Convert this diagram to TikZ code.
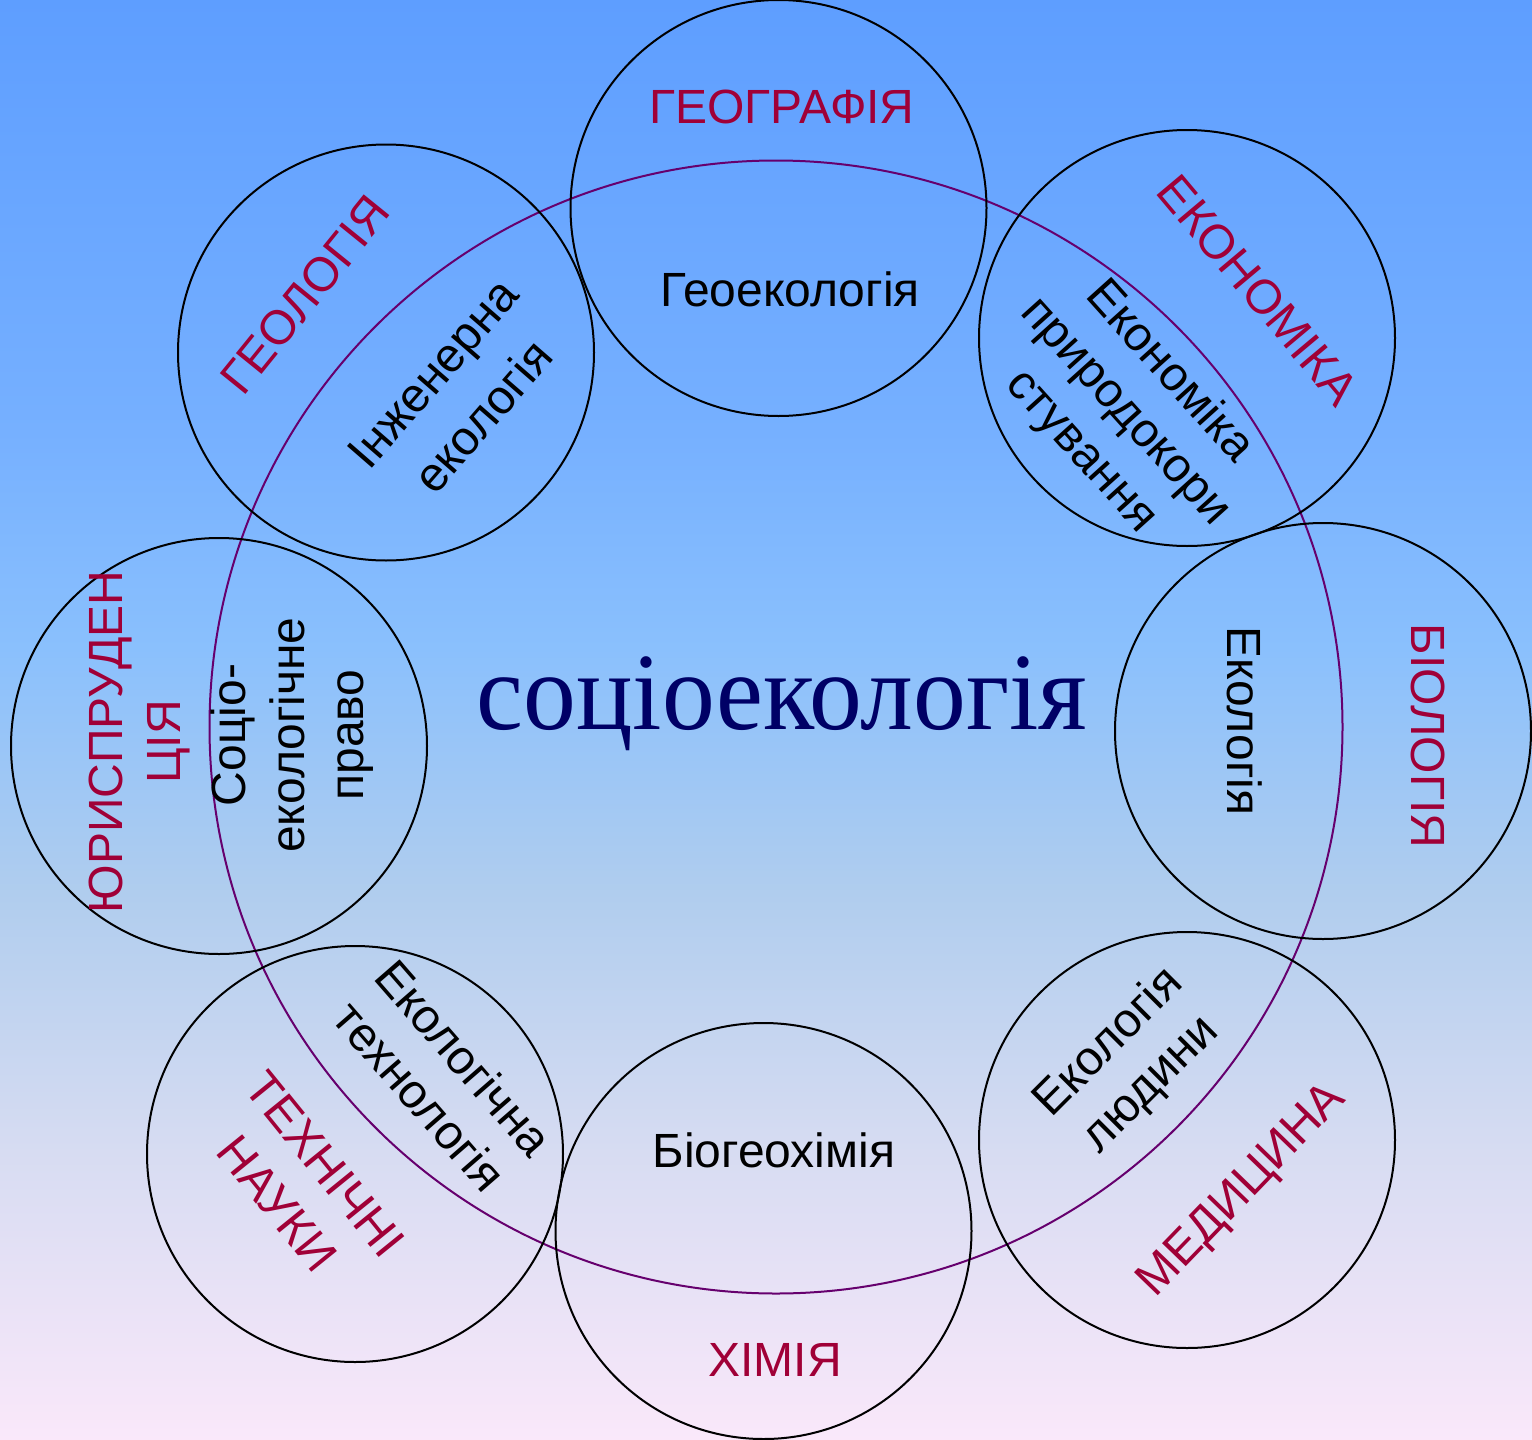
\documentclass[tikz,border=0pt]{standalone}
\usepackage{fontspec}
\setmainfont{Liberation Sans}
\newfontfamily\serifcyr{Liberation Serif}
\definecolor{redt}{RGB}{160,0,55}
\definecolor{navyt}{RGB}{0,0,102}
\definecolor{bigpurple}{RGB}{102,0,110}
\pgfdeclareverticalshading{bgshade}{100bp}{%
  color(0bp)=(rgb,255:red,250;green,232;blue,250);
  color(25bp)=(rgb,255:red,250;green,232;blue,250);
  color(35bp)=(rgb,255:red,215;green,220;blue,242);
  color(44bp)=(rgb,255:red,176;green,205;blue,238);
  color(52.5bp)=(rgb,255:red,138;green,192;blue,253);
  color(60bp)=(rgb,255:red,118;green,176;blue,255);
  color(75bp)=(rgb,255:red,94;green,158;blue,255);
  color(100bp)=(rgb,255:red,94;green,158;blue,255)}
\begin{document}
\begin{tikzpicture}[x=0.5pt,y=-0.5pt,
  ring/.style={draw=black,line width=1pt},
  bigring/.style={draw=bigpurple,line width=1pt},
  redlbl/.style={text=redt,font=\fontsize{24}{29}\selectfont,align=center,inner sep=0pt},
  blklbl/.style={text=black,font=\fontsize{24}{29.5}\selectfont,align=center,inner sep=0pt}]
\useasboundingbox (0,0) rectangle (1532,1440);
\shade[shading=bgshade] (0,0) rectangle (1532,1440);

\coordinate (cbig) at (776,727);
\coordinate (cgeog) at (778.5,208);
\coordinate (cgeol) at (386,352.5);
\coordinate (cecon) at (1187,338);
\coordinate (cbio) at (1323,731);
\coordinate (cjur) at (219,746);
\coordinate (ctech) at (355,1154);
\coordinate (cchem) at (763.5,1231);
\coordinate (cmed) at (1187,1140);

\draw[bigring] (cbig) circle[radius=566.5];
\foreach \c in {cgeog,cgeol,cecon,cbio,cjur,ctech,cchem,cmed}
  \draw[ring] (\c) circle[radius=208];

% Geography
\node[redlbl] (geog) at (782,107) {ГЕОГРАФІЯ};
\node[blklbl] (geoeco) at (790,289) {Геоекологія};
% Geology
\node[redlbl,rotate=51] (geol) at (305,295) {ГЕОЛОГІЯ};
\node[blklbl,rotate=49,font=\fontsize{24}{33}\selectfont] (ingeco) at (458,395) {Інженерна\\екологія};
% Economics
\node[redlbl,rotate=-50] (econ) at (1258,290) {ЕКОНОМІКА};
\node[blklbl,rotate=-48] (econeco) at (1125,412) {Економіка\\природокори\\стування};
% Jurisprudence
\node[redlbl,rotate=90] (jur) at (140,742) {ЮРИСПРУДЕН\\ЦІЯ};
\node[blklbl,rotate=90] (jureco) at (292,735) {Соціо-\\екологічне\\право};
% Biology
\node[blklbl,rotate=-90] (bioeco) at (1245,721) {Екологія};
\node[redlbl,rotate=-90] (bio) at (1428,736) {БІОЛОГІЯ};
% Technical sciences
\node[blklbl,rotate=-49] (techeco) at (442,1077) {Екологічна\\технологія};
\node[redlbl,rotate=-51,font=\fontsize{24}{31}\selectfont] (tech) at (301,1184) {ТЕХНІЧНІ\\НАУКИ};
% Medicine
\node[blklbl,rotate=45] (medeco) at (1130,1064) {Екологія\\людини};
\node[redlbl,rotate=46] (med) at (1243,1191) {МЕДИЦИНА};
% Chemistry
\node[blklbl] (chemeco) at (774,1150) {Біогеохімія};
\node[redlbl] (chem) at (775,1360) {ХІМІЯ};
% Centre
\node[text=navyt,font=\serifcyr\fontsize{55}{55}\selectfont,inner sep=0pt,anchor=base,xscale=0.96] (soc) at (782,729) {соціоекологія};
\end{tikzpicture}
\end{document}
